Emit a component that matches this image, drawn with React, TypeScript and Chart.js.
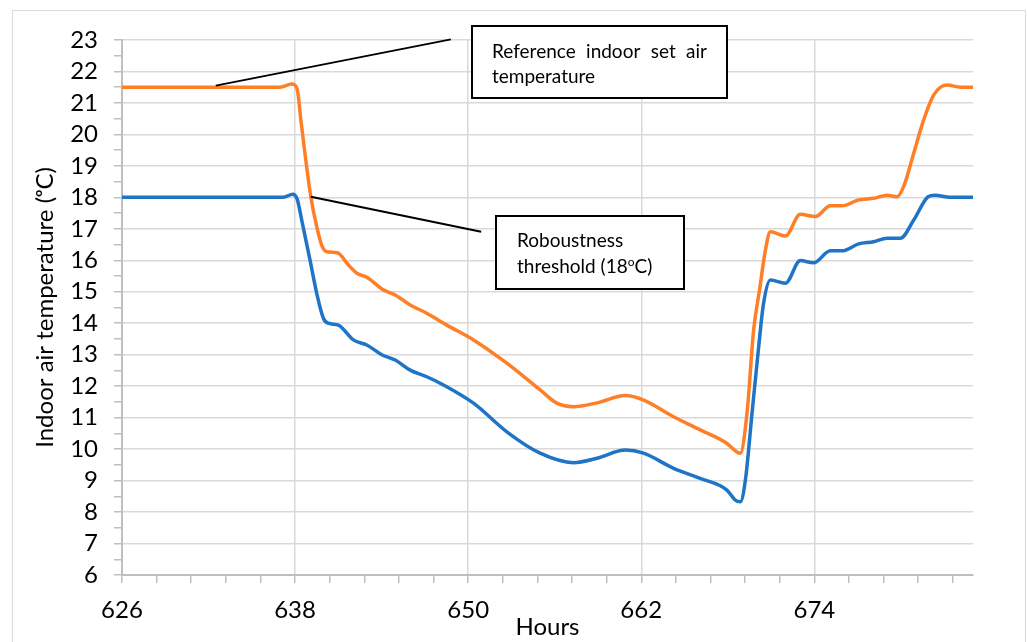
import React, { useEffect, useRef } from 'react';
import { Chart, registerables } from 'chart.js';

Chart.register(...registerables);

// Reference indoor set air temperature (hours, °C)
const refHours = [626, 636.96, 637.77, 638.14, 638.4, 638.74, 639.09, 639.5, 639.87, 640.2, 640.93, 641.7, 642.28, 642.97, 644.12, 644.94, 645.98, 647.13, 648.52, 650.37, 652.68, 654.99, 656.15, 657.3, 658.93, 660.89, 662.16, 664.24, 666.09, 667.94, 668.38, 668.87, 669.33, 669.79, 670.2, 670.6, 670.95, 671.99, 673.03, 674.07, 675.11, 675.92, 677.07, 678.11, 679.04, 679.73, 680.19, 680.89, 681.58, 682.27, 683.2, 684.13, 685];
const refTemps = [21.5, 21.5, 21.6, 21.45, 20.46, 19.19, 18.02, 17.07, 16.45, 16.27, 16.24, 15.85, 15.59, 15.46, 15.06, 14.9, 14.58, 14.32, 13.94, 13.47, 12.73, 11.88, 11.46, 11.35, 11.47, 11.7, 11.56, 11.03, 10.61, 10.18, 10.0, 9.87, 11.14, 13.78, 15.06, 16.3, 16.91, 16.77, 17.46, 17.39, 17.73, 17.73, 17.92, 17.97, 18.07, 18.02, 18.34, 19.4, 20.46, 21.25, 21.57, 21.5, 21.5];

// Roboustness threshold series (hours, °C)
const thrHours = [626, 637.17, 637.84, 638.14, 638.46, 639.04, 639.5, 639.96, 640.31, 641.0, 642.04, 642.97, 644.01, 644.94, 645.98, 647.13, 648.29, 650.37, 652.68, 654.99, 657.3, 658.93, 660.89, 662.16, 664.24, 666.09, 667.94, 668.52, 668.87, 669.22, 669.68, 670.14, 670.47, 670.95, 671.99, 673.03, 673.95, 675.11, 675.92, 677.07, 678.11, 679.04, 679.97, 680.89, 681.89, 682.36, 683.4, 685];
const thrTemps = [18, 18, 18.1, 17.95, 17.28, 16.0, 14.95, 14.16, 14.0, 13.94, 13.47, 13.31, 13.0, 12.83, 12.51, 12.3, 12.04, 11.46, 10.55, 9.87, 9.57, 9.71, 9.97, 9.87, 9.39, 9.07, 8.7, 8.38, 8.33, 9.02, 11.14, 13.25, 14.6, 15.37, 15.27, 15.99, 15.92, 16.3, 16.3, 16.52, 16.59, 16.7, 16.7, 17.28, 18.02, 18.07, 18.0, 18.0];

// Axis ranges and tick labels
const xMin = 626;
const xMax = 685;
const xMajorStep = 12;
const xMinorPerMajor = 5;
const xTickLabels = ['626', '638', '650', '662', '674'];
const yMin = 6;
const yMax = 23;
const yMinorStep = 0.5;

const FONT = "Lato, 'Noto Sans', 'DejaVu Sans', sans-serif";
const ORANGE = '#FF7F27';
const BLUE = '#1F74C6';

// Callout boxes: text segments ('^' marks a superscript run), box corners and leader line in data units
type Seg = { t: string; sup?: boolean };
const callouts: {
  lines: Seg[][];
  justifyFirst: boolean;
  box: [number, number, number, number];
  from: [number, number];
  to: [number, number];
  baselines: [number, number];
  padLeft: number;
}[] = [
  {
    lines: [[{ t: 'Reference indoor set air' }], [{ t: 'temperature' }]],
    justifyFirst: true,
    box: [650.28, 23.44, 667.96, 21.16],
    from: [632.5, 21.55],
    to: [648.8, 23.02],
    baselines: [32, 57],
    padLeft: 20,
  },
  {
    lines: [[{ t: 'Roboustness' }], [{ t: 'threshold (18' }, { t: 'o', sup: true }, { t: 'C)' }]],
    justifyFirst: false,
    box: [651.94, 17.41, 664.98, 15.09],
    from: [639.09, 18.02],
    to: [650.9, 16.91],
    baselines: [31, 57],
    padLeft: 21,
  },
];

const isXMajor = (v: number) => {
  const k = (v - xMin) / xMajorStep;
  return Math.abs(k - Math.round(k)) < 1e-6;
};

const calloutPlugin = {
  id: 'callouts',
  afterDraw(chart: any) {
    const { ctx } = chart;
    const xs = chart.scales.x;
    const ys = chart.scales.y;
    ctx.save();

    // outer chart frame
    ctx.strokeStyle = '#d9d9d9';
    ctx.lineWidth = 1;
    ctx.strokeRect(12.5, 10.5, 1013, 700);

    const baseSize = 19;
    const supSize = 12;
    for (const c of callouts) {
      // leader line
      ctx.strokeStyle = '#000';
      ctx.lineWidth = 2;
      ctx.beginPath();
      ctx.moveTo(xs.getPixelForValue(c.from[0]), ys.getPixelForValue(c.from[1]));
      ctx.lineTo(xs.getPixelForValue(c.to[0]), ys.getPixelForValue(c.to[1]));
      ctx.stroke();

      // box
      const bx0 = Math.round(xs.getPixelForValue(c.box[0]));
      const by0 = Math.round(ys.getPixelForValue(c.box[1]));
      const bx1 = Math.round(xs.getPixelForValue(c.box[2]));
      const by1 = Math.round(ys.getPixelForValue(c.box[3]));
      ctx.fillStyle = '#fff';
      ctx.fillRect(bx0, by0, bx1 - bx0, by1 - by0);
      ctx.strokeStyle = '#000';
      ctx.lineWidth = 2;
      ctx.strokeRect(bx0, by0, bx1 - bx0, by1 - by0);

      // text
      ctx.fillStyle = '#000';
      ctx.textBaseline = 'alphabetic';
      ctx.textAlign = 'left';
      const innerW = bx1 - bx0 - 2 * c.padLeft;
      c.lines.forEach((segs, li) => {
        const baseY = by0 + c.baselines[li];
        let x = bx0 + c.padLeft;
        if (li === 0 && c.justifyFirst && segs.length === 1) {
          ctx.font = `${baseSize}px ${FONT}`;
          const words = segs[0].t.split(' ');
          const widths = words.map((w) => ctx.measureText(w).width);
          const total = widths.reduce((a, b) => a + b, 0);
          const gap = words.length > 1 ? (innerW - total) / (words.length - 1) : 0;
          words.forEach((w, wi) => {
            ctx.fillText(w, x, baseY);
            x += widths[wi] + gap;
          });
          return;
        }
        for (const s of segs) {
          ctx.font = `${s.sup ? supSize : baseSize}px ${FONT}`;
          const y = s.sup ? baseY - 7 : baseY;
          ctx.fillText(s.t, x, y);
          x += ctx.measureText(s.t).width;
        }
      });
    }
    ctx.restore();
  },
};

export default function App() {
  const canvasRef = useRef<HTMLCanvasElement | null>(null);

  useEffect(() => {
    const canvas = canvasRef.current;
    if (!canvas) return;

    const refData = refHours.map((h, i) => ({ x: h, y: refTemps[i] }));
    const thrData = thrHours.map((h, i) => ({ x: h, y: thrTemps[i] }));

    const chart = new Chart(canvas, {
      type: 'line',
      data: {
        datasets: [
          {
            label: 'Reference indoor set air temperature',
            data: refData,
            borderColor: ORANGE,
            backgroundColor: ORANGE,
            borderWidth: 3.5,
            pointRadius: 0,
            cubicInterpolationMode: 'monotone',
            fill: false,
          },
          {
            label: 'Roboustness threshold',
            data: thrData,
            borderColor: BLUE,
            backgroundColor: BLUE,
            borderWidth: 3.5,
            pointRadius: 0,
            cubicInterpolationMode: 'monotone',
            fill: false,
          },
        ],
      },
      options: {
        responsive: false,
        animation: false,
        events: [],
        layout: { padding: { left: 0, top: 40, right: 54, bottom: 0 } },
        plugins: {
          legend: { display: false },
          tooltip: { enabled: false },
          title: { display: false },
        },
        scales: {
          x: {
            type: 'linear',
            min: xMin,
            max: xMax,
            afterBuildTicks: (scale: any) => {
              const step = xMajorStep / xMinorPerMajor;
              const ticks: { value: number }[] = [];
              for (let i = 0; xMin + i * step <= xMax + 1e-9; i++) {
                ticks.push({ value: xMin + i * step });
              }
              scale.ticks = ticks;
            },
            afterFit: (scale: any) => {
              scale.height = 67;
            },
            ticks: {
              autoSkip: false,
              maxRotation: 0,
              padding: 13,
              color: '#000',
              font: { family: FONT, size: 24 },
              callback: (v: any) => {
                const val = Number(v);
                if (!isXMajor(val)) return '';
                return xTickLabels[Math.round((val - xMin) / xMajorStep)] ?? '';
              },
            },
            grid: {
              drawOnChartArea: true,
              color: (ctx: any) => (ctx.tick && isXMajor(ctx.tick.value) ? '#d9d9d9' : 'rgba(0,0,0,0)'),
              tickColor: '#bfbfbf',
              lineWidth: 1.5,
              tickLength: 8,
            },
            border: { color: '#bfbfbf', width: 2 },
            title: {
              display: true,
              text: 'Hours',
              color: '#000',
              font: { family: FONT, size: 24 },
              padding: { top: 0, bottom: 0 },
            },
          },
          y: {
            type: 'linear',
            min: yMin,
            max: yMax,
            afterBuildTicks: (scale: any) => {
              const ticks: { value: number }[] = [];
              for (let i = 0; yMin + i * yMinorStep <= yMax + 1e-9; i++) {
                ticks.push({ value: yMin + i * yMinorStep });
              }
              scale.ticks = ticks;
            },
            afterFit: (scale: any) => {
              scale.width = 122;
            },
            ticks: {
              autoSkip: false,
              padding: 16,
              color: '#000',
              font: { family: FONT, size: 24 },
              callback: (v: any) => (Number.isInteger(Number(v)) ? String(v) : ''),
            },
            grid: {
              color: (ctx: any) => (ctx.tick && Number.isInteger(ctx.tick.value) ? '#d9d9d9' : 'rgba(0,0,0,0)'),
              tickColor: '#bfbfbf',
              lineWidth: 1.5,
              tickLength: 8,
            },
            border: { color: '#bfbfbf', width: 2 },
            title: {
              display: true,
              text: 'Indoor air temperature (\u1D52C)',
              color: '#000',
              font: { family: FONT, size: 24 },
              padding: { top: 31, bottom: 0 },
            },
          },
        },
      },
      plugins: [calloutPlugin],
    });

    return () => chart.destroy();
  }, []);

  return (
    <div style={{ position: 'absolute', left: 0, top: 0, width: 1027, height: 642, background: '#fff' }}>
      <canvas ref={canvasRef} width={1027} height={642} style={{ display: 'block' }} />
    </div>
  );
}
